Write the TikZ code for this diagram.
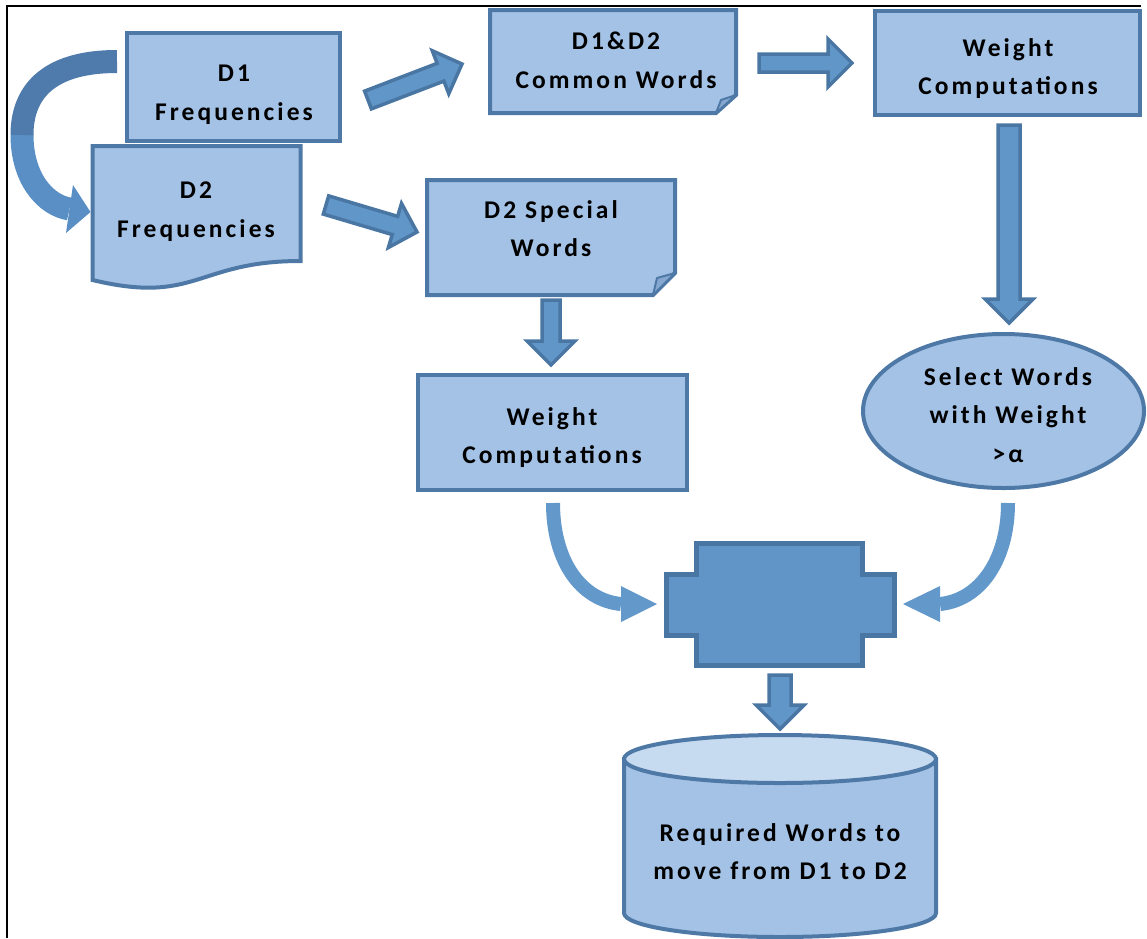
\documentclass[tikz,border=0pt]{standalone}
\usepackage{fontspec}
\setmainfont{Carlito}[LetterSpace=12]
\usetikzlibrary{calc}

\definecolor{boxfill}{HTML}{A4C2E5}
\definecolor{boxline}{HTML}{4E79A6}
\definecolor{arrowfill}{HTML}{6196C8}
\definecolor{arrowline}{HTML}{4A76A3}
\definecolor{curvefill}{HTML}{6398CB}
\definecolor{loopdark}{HTML}{4E7BAC}
\definecolor{looplight}{HTML}{5A8FC5}
\definecolor{capfill}{HTML}{C6DAF0}
\definecolor{foldfill}{HTML}{86A8D0}
\definecolor{mergefill}{HTML}{6195C7}

\tikzset{
  shapebox/.style={draw=boxline, fill=boxfill, line width=4pt, line join=miter},
  foldcorner/.style={draw=boxline, fill=foldfill, line width=2pt, line join=round},
  boxtext/.style={anchor=north, align=center, inner sep=0pt,
    font=\bfseries\fontsize{25.5}{38.5}\selectfont},
  blockarrow/.style={draw=arrowline, fill=arrowfill, line width=3.5pt, line join=miter},
  bendarrow/.style={line width=14pt, draw=curvefill, line cap=butt},
}

% straight block arrow: #1 tail, #2 tip, #3 half shaft width, #4 half head width, #5 head length
\newcommand\flowarrow[5]{%
  \coordinate (#1-base) at ($(#2)!#5!(#1)$);
  \draw[blockarrow] ($(#1)!#3!90:(#2)$) -- ($(#1-base)!#3!90:(#2)$)
    -- ($(#1-base)!#4!90:(#2)$) -- (#2) -- ($(#1-base)!#4!-90:(#2)$)
    -- ($(#1-base)!#3!-90:(#2)$) -- ($(#1)!#3!-90:(#2)$) -- cycle;}

\begin{document}
\begin{tikzpicture}[x=1pt,y=-1pt]
\useasboundingbox (0,0) rectangle (1147,938);

% frame
\draw[line width=2.4pt] (7,938) -- (7,6) -- (1141,6);

% loop arrow from D1 round to D2, darker above and lighter below
\coordinate (loopA) at (117,61.5);
\coordinate (loopM) at (22,135);
\coordinate (loopB) at (69.5,209);
\draw[line width=23pt, draw=looplight] (loopM) .. controls (22,178) and (45,205) .. (loopB);
\draw[line width=23pt, draw=loopdark] (loopA) .. controls (45,61.5) and (22,95) .. (loopM);
\fill[looplight] (73,185) -- (90.5,212) -- (66,233) -- cycle;

% D1 frequencies
\draw[shapebox] (127,33) rectangle (340,141);
% D2 frequencies (document shape)
\draw[shapebox] (92.5,146) -- (300.5,146) -- (300.5,261)
  .. controls (196.5,261) and (196.5,305) .. (92.5,280) -- cycle;

% common words (note with folded corner)
\draw[shapebox] (490,10) -- (736,10) -- (736,95) -- (716,113) -- (490,113) -- cycle;
\draw[foldcorner] (736,95) -- (721,100) -- (716,113) -- cycle;

% weight computations, top right
\draw[shapebox] (875,11) rectangle (1140,115);

% D2 special words (note with folded corner)
\draw[shapebox] (427,180) -- (675,180) -- (675,273) -- (653,295) -- (427,295) -- cycle;
\draw[foldcorner] (675,273) -- (657,278) -- (653,295) -- cycle;

% weight computations, middle
\draw[shapebox] (418,375) rectangle (687,490);

% selection by weight
\draw[shapebox] (1003.5,411) ellipse[x radius=140.5, y radius=77];

% merge step
\draw[draw=arrowline, fill=mergefill, line width=5pt]
  (696,543) -- (862,543) -- (862,574) -- (894,574) -- (894,635) -- (862,635)
  -- (862,665) -- (696,665) -- (696,635) -- (666,635) -- (666,574) -- (696,574) -- cycle;
\coordinate (merge) at (780,604);

% result store (cylinder)
\draw[shapebox] (624,759) -- (624,913) arc[start angle=180, end angle=0, x radius=156, y radius=24]
  -- (936,759) -- cycle;
\draw[shapebox, fill=capfill] (780,759) ellipse[x radius=156, y radius=24];

% texts
\node[boxtext] (d1) at (234,65) {D1\\Frequencies};
\node[boxtext] (d2) at (196,182) {D2\\Frequencies};
\node[boxtext] (common) at (616,32) {D1\&D2\\Common Words};
\node[boxtext] (weightA) at (1008,38) {Weight\\Computations};
\node[boxtext] (special) at (551,200) {D2 Special\\Words};
\node[boxtext] (weightB) at (552,407) {Weight\\Computations};
\node[boxtext] (select) at (1008,367) {Select Words\\with Weight\\>α};
\node[boxtext] (store) at (780,823) {Required Words to\\move from D1 to D2};

% straight block arrows
\coordinate (a1t) at (368,100);  \coordinate (a1h) at (462,64);
\coordinate (a2t) at (759,63);   \coordinate (a2h) at (852,63);
\coordinate (a3t) at (326,205);  \coordinate (a3h) at (417,232);
\coordinate (a4t) at (551,300);  \coordinate (a4h) at (551,365);
\coordinate (a5t) at (1009,125); \coordinate (a5h) at (1009,323);
\coordinate (a6t) at (780,675);  \coordinate (a6h) at (780,729);
\flowarrow{a1t}{a1h}{9.5pt}{23pt}{23pt}
\flowarrow{a2t}{a2h}{9pt}{24pt}{24pt}
\flowarrow{a3t}{a3h}{9.5pt}{23pt}{23pt}
\flowarrow{a4t}{a4h}{9pt}{24pt}{24pt}
\flowarrow{a5t}{a5h}{11pt}{24pt}{24pt}
\flowarrow{a6t}{a6h}{11pt}{24pt}{24pt}

% bent arrows into the merge step
\coordinate (b1s) at (553,503); \coordinate (b1e) at (621,604);
\draw[bendarrow] (b1s) .. controls (553,560) and (580,600) .. (b1e);
\fill[curvefill] (621,586) -- (657,604) -- (621,622) -- cycle;
\coordinate (b2s) at (1008,503); \coordinate (b2e) at (940,604);
\draw[bendarrow] (b2s) .. controls (1008,560) and (980,600) .. (b2e);
\fill[curvefill] (940,586) -- (903,604) -- (940,622) -- cycle;
\end{tikzpicture}
\end{document}
